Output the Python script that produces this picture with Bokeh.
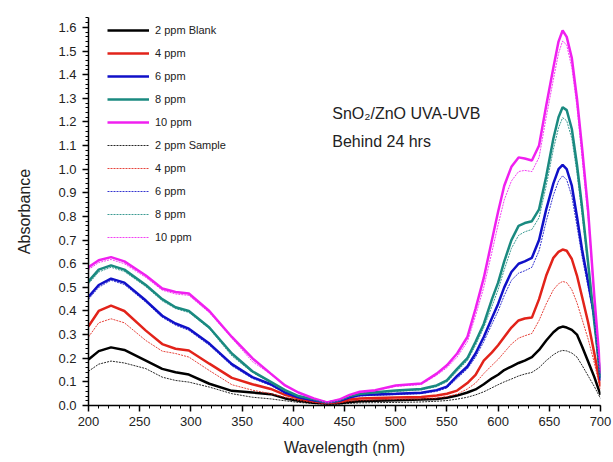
from bokeh.plotting import figure
from bokeh.models import (Range1d, SingleIntervalTicker, NumeralTickFormatter,
                          Legend, LegendItem, Label)
from bokeh.embed import file_html
from bokeh.resources import INLINE

# ---- data ----
wavelength = [200, 210, 222, 235, 256, 272, 285, 298, 318, 340, 360, 378,
              392, 405, 420, 433, 445, 455, 465, 480, 500, 525, 540, 550,
              560, 570, 578, 586, 594, 600, 606, 613, 620, 626, 633, 640,
              647, 654, 659, 663, 667, 672, 677, 682, 688, 694, 700]

blank_2 = [.195, .23, .246, .235, .19, .155, .141, .131, .092, .062, .055, .048,
           .03, .02, .012, .008, .01, .015, .018, .02, .022, .025, .028, .033,
           .042, .055, .068, .09, .115, .13, .15, .165, .18, .19, .205, .235,
           .275, .31, .328, .334, .33, .32, .30, .25, .185, .12, .045]
blank_4 = [.335, .40, .423, .40, .317, .26, .24, .233, .177, .117, .09, .07,
           .045, .03, .018, .01, .015, .025, .03, .032, .034, .036, .042, .05,
           .063, .095, .13, .19, .225, .255, .29, .33, .36, .368, .372, .45,
           .55, .625, .65, .66, .655, .62, .55, .46, .35, .22, .08]
blank_6 = [.46, .51, .537, .52, .444, .38, .347, .325, .262, .175, .12, .09,
           .055, .035, .022, .012, .02, .035, .044, .047, .05, .054, .065, .08,
           .125, .165, .22, .29, .37, .43, .50, .565, .60, .61, .625, .70,
           .83, .94, 1.0, 1.018, 1.0, .93, .80, .66, .52, .38, .11]
blank_8 = [.525, .575, .593, .575, .51, .45, .416, .40, .33, .22, .145, .10,
           .065, .04, .025, .012, .022, .04, .05, .056, .063, .07, .085, .106,
           .155, .20, .27, .345, .45, .52, .61, .70, .76, .772, .78, .83,
           .97, 1.13, 1.22, 1.262, 1.25, 1.17, 1.02, .84, .60, .35, .12]
blank_10 = [.585, .615, .628, .61, .55, .495, .48, .474, .40, .29, .20, .135,
            .085, .055, .03, .013, .025, .045, .058, .065, .085, .093, .135, .17,
            .22, .29, .41, .54, .70, .82, .93, 1.01, 1.05, 1.045, 1.037, 1.10,
            1.27, 1.43, 1.54, 1.587, 1.56, 1.47, 1.30, 1.09, .82, .46, .14]

sample_2 = [.145, .175, .188, .18, .156, .12, .106, .099, .078, .05, .035, .028,
            .02, .013, .008, .005, .006, .009, .011, .012, .013, .015, .018, .021,
            .027, .035, .045, .058, .075, .088, .10, .112, .125, .133, .14, .16,
            .19, .215, .228, .233, .231, .222, .205, .17, .125, .08, .03]
sample_4 = [.29, .35, .367, .35, .275, .23, .22, .205, .148, .088, .065, .05,
            .035, .022, .013, .007, .011, .018, .022, .024, .026, .028, .032, .038,
            .048, .07, .095, .135, .17, .195, .225, .26, .285, .295, .305, .36,
            .43, .49, .515, .525, .52, .49, .435, .365, .28, .18, .065]
sample_6 = [.45, .50, .53, .512, .437, .373, .34, .318, .255, .168, .115, .085,
            .052, .033, .02, .011, .018, .032, .04, .043, .046, .05, .06, .074,
            .115, .155, .205, .27, .345, .40, .465, .53, .56, .57, .585, .655,
            .78, .89, .95, .972, .955, .885, .76, .63, .50, .36, .10]
sample_8 = [.515, .565, .585, .567, .503, .443, .41, .394, .325, .21, .14, .097,
            .063, .038, .024, .011, .02, .037, .047, .052, .059, .066, .08, .10,
            .145, .19, .255, .33, .42, .49, .575, .665, .72, .735, .745, .795,
            .93, 1.085, 1.175, 1.218, 1.205, 1.13, .985, .81, .58, .34, .115]
sample_10 = [.575, .605, .618, .60, .542, .488, .472, .466, .393, .285, .186, .132,
             .083, .053, .029, .012, .023, .042, .055, .062, .081, .089, .128, .16,
             .205, .27, .38, .50, .65, .765, .87, .95, .99, .995, .99, 1.05,
             1.22, 1.38, 1.49, 1.543, 1.525, 1.43, 1.265, 1.05, .79, .44, .135]

labels = ["2 ppm Blank", "4 ppm", "6 ppm", "8 ppm", "10 ppm",
          "2 ppm Sample", "4 ppm", "6 ppm", "8 ppm", "10 ppm"]
series = [blank_2, blank_4, blank_6, blank_8, blank_10,
          sample_2, sample_4, sample_6, sample_8, sample_10]
colors = ["#000000", "#e2231a", "#1010c8", "#1a8a80", "#f020f0"]

FONT = "Liberation Sans"

p = figure(width=613, height=462, output_backend="svg", toolbar_location=None,
           x_range=Range1d(200, 700), y_range=Range1d(0, 1.642),
           min_border_left=88, min_border_right=13, min_border_top=17, min_border_bottom=57)
p.outline_line_color = None
p.xgrid.visible = False
p.ygrid.visible = False
p.background_fill_color = "white"
p.border_fill_color = "white"

items = []
for i, (lab, ys) in enumerate(zip(labels, series)):
    c = colors[i % 5]
    if i < 5:
        r = p.line(wavelength, ys, line_color=c, line_width=2.5)
    else:
        r = p.line(wavelength, ys, line_color=c, line_width=1, line_dash="2 1", line_alpha=0.85)
    items.append(LegendItem(label=lab, renderers=[r]))

legend = Legend(items=items, location=(19, 158), glyph_width=42, glyph_height=20,
                label_text_font=FONT, label_text_font_size="11px", label_height=20,
                label_text_color="#222222",
                spacing=3, padding=0, margin=0, border_line_color=None,
                background_fill_alpha=0, label_standoff=6)
p.add_layout(legend)

p.xaxis.ticker = SingleIntervalTicker(interval=50, num_minor_ticks=5)
p.yaxis.ticker = SingleIntervalTicker(interval=0.1, num_minor_ticks=5)
p.yaxis.formatter = NumeralTickFormatter(format="0.0")
for ax in (p.xaxis, p.yaxis):
    ax.major_tick_out = 6
    ax.major_tick_in = 0
    ax.minor_tick_out = 3
    ax.minor_tick_in = 0
    ax.axis_line_width = 1.5
    ax.major_tick_line_width = 1.5
    ax.major_label_text_font = FONT
    ax.major_label_text_font_size = "13px"
    ax.major_label_text_color = "#222222"
    ax.axis_label_text_font = FONT
    ax.axis_label_text_font_size = "16px"
    ax.axis_label_text_font_style = "normal"
    ax.axis_label_text_color = "#222222"
p.xaxis.axis_label = "Wavelength (nm)"
p.yaxis.axis_label = "Absorbance"
p.xaxis.axis_label_standoff = 10
p.yaxis.axis_label_standoff = 22
p.xaxis.major_label_standoff = 5
p.yaxis.major_label_standoff = 6

p.add_layout(Label(x=438, y=1.20, text="SnO\u2082/ZnO UVA-UVB", text_font=FONT,
                   text_font_size="16px", text_color="#222222"))
p.add_layout(Label(x=438, y=1.08, text="Behind 24 hrs", text_font=FONT,
                   text_font_size="16px", text_color="#222222"))

open("out.html", "w").write(file_html(p, INLINE))
